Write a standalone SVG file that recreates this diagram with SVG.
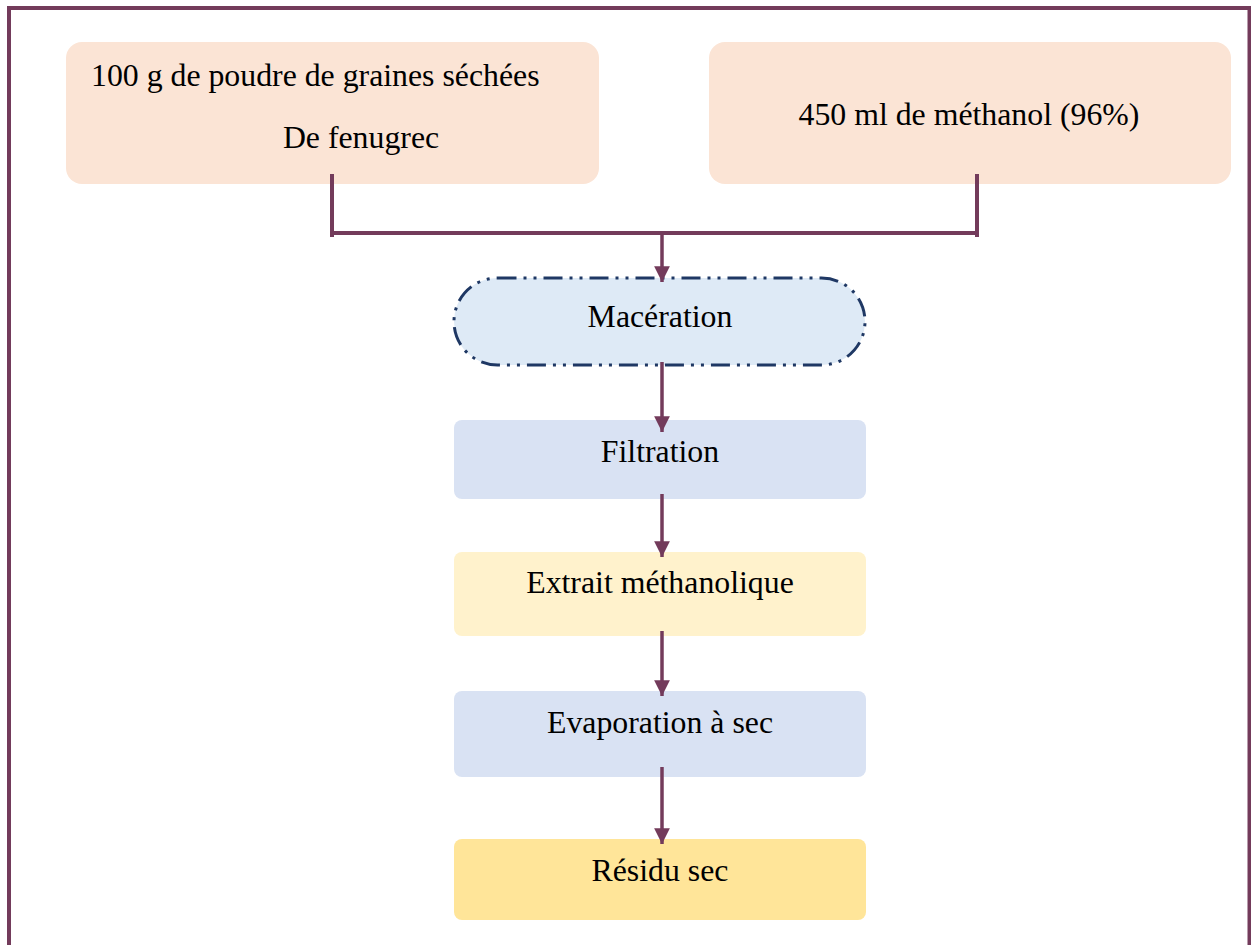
<svg xmlns="http://www.w3.org/2000/svg" width="1251" height="945" viewBox="0 0 1251 945">
<style>
text{font-family:"Liberation Serif","Times New Roman",serif;font-size:31.8px;fill:#000}
.c{text-anchor:middle}
.ln{stroke:#733B5B;stroke-width:4;fill:none}
.ar{stroke:#733B5B;stroke-width:3.5;fill:none}
</style>
<defs>
<marker id="ah" viewBox="0 0 10 10" refX="10" refY="5" markerWidth="4.5" markerHeight="4.5" orient="auto" markerUnits="strokeWidth">
<path d="M0,0 L10,5 L0,10 Z" fill="#733B5B"/>
</marker>
</defs>
<rect width="1251" height="945" fill="#fff"/>
<path d="M9,950 V8 H1249.5 V950" fill="none" stroke="#733B5B" stroke-width="4"/>
<g id="n-poudre">
<rect x="66" y="42" width="533" height="142" rx="16" fill="#FBE4D5"/>
<text x="91" y="86">100 g de poudre de graines séchées</text>
<text x="361" y="148" class="c">De fenugrec</text>
</g>
<g id="n-methanol">
<rect x="709" y="42" width="522" height="142" rx="16" fill="#FBE4D5"/>
<text x="969" y="125" class="c">450 ml de méthanol (96%)</text>
</g>
<g id="n-maceration">
<rect x="454" y="278" width="411" height="87" rx="43.5" fill="#DEEAF6" stroke="#1F3864" stroke-width="3" stroke-dasharray="19 7 3 7 3 7"/>
<text x="660" y="327" class="c">Macération</text>
</g>
<g id="n-filtration">
<rect x="454" y="420" width="412" height="79" rx="8" fill="#D9E2F3"/>
<text x="660" y="462" class="c">Filtration</text>
</g>
<g id="n-extrait">
<rect x="454" y="552" width="412" height="84" rx="8" fill="#FFF2CC"/>
<text x="660" y="593" class="c">Extrait méthanolique</text>
</g>
<g id="n-evaporation">
<rect x="454" y="691" width="412" height="86" rx="8" fill="#D9E2F3"/>
<text x="660" y="733" class="c">Evaporation à sec</text>
</g>
<g id="n-residu">
<rect x="454" y="839" width="412" height="81" rx="8" fill="#FFE599"/>
<text x="660" y="881" class="c">Résidu sec</text>
</g>
<g id="connectors">
<path class="ln" d="M332,174 V237 M977,174 V237 M332,233 H977"/>
<line class="ar" x1="662" y1="233" x2="662" y2="282" marker-end="url(#ah)"/>
<line class="ar" x1="662" y1="362" x2="662" y2="432" marker-end="url(#ah)"/>
<line class="ar" x1="662" y1="494" x2="662" y2="557" marker-end="url(#ah)"/>
<line class="ar" x1="662" y1="631" x2="662" y2="696" marker-end="url(#ah)"/>
<line class="ar" x1="662" y1="767" x2="662" y2="844" marker-end="url(#ah)"/>
</g>
</svg>
